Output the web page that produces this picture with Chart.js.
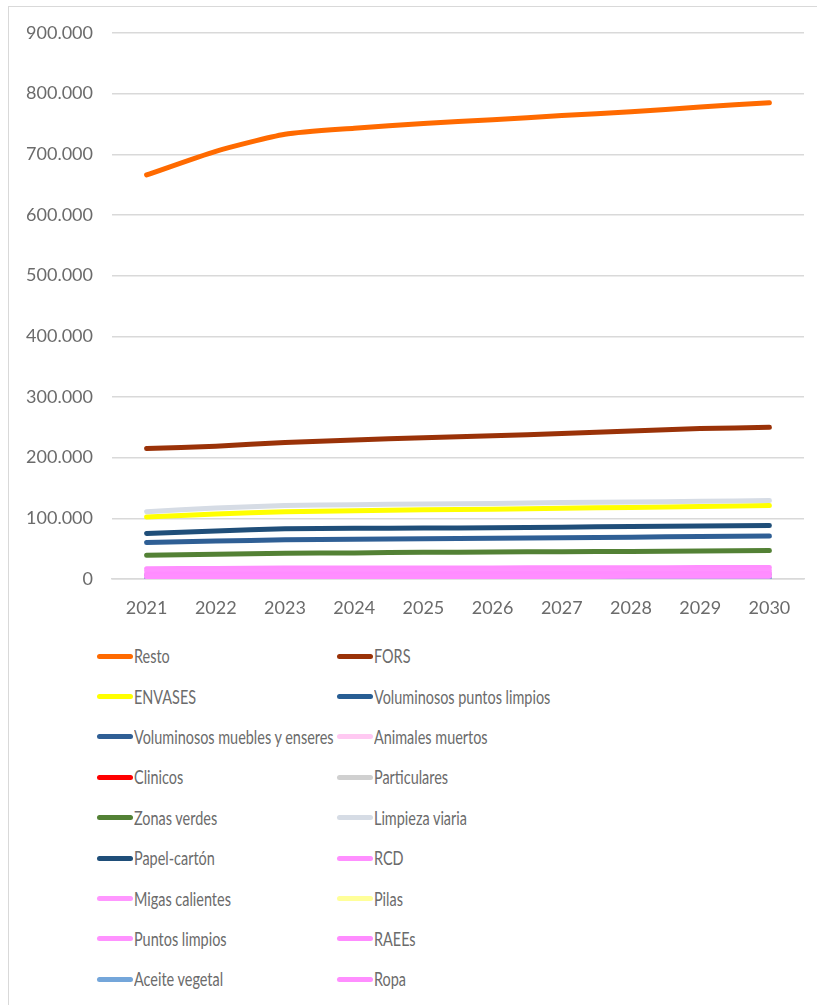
<!DOCTYPE html>
<html>
<head>
<meta charset="utf-8">
<script src="https://cdn.jsdelivr.net/npm/chart.js@4/dist/chart.umd.min.js"></script>
<style>
  html, body { margin:0; padding:0; background:#fff; }
  body { width:817px; height:1005px; position:relative; overflow:hidden; font-family:Lato, "Liberation Sans", sans-serif; }
  #frame { position:absolute; left:8px; top:6px; width:830px; height:1020px; border-left:1.5px solid #d9d9d9; border-top:1.5px solid #d9d9d9; }
  #wrap { position:absolute; left:0; top:0; width:817px; height:630px; }
  #legend { position:absolute; left:97px; top:636px; display:grid; grid-template-columns:240px 300px; grid-auto-rows:40.4px; }
  .item { display:flex; align-items:center; color:#6b6b6b; font-size:18.5px; white-space:nowrap; }
  .sw { width:36px; height:5px; border-radius:3px; margin-right:1px; flex:none; }
  .tx { display:inline-block; transform:scaleX(0.78); transform-origin:left center; }
</style>
</head>
<body>
<div id="frame"></div>
<div id="wrap"><canvas id="c" width="817" height="630"></canvas></div>
<div id="legend"></div>
<script>
const years = ['2021','2022','2023','2024','2025','2026','2027','2028','2029','2030'];
const yTicks = [0,100000,200000,300000,400000,500000,600000,700000,800000,900000];

const resto = [666000,705000,733000,743000,751000,757000,764000,770000,778000,785000];
const fors = [215000,219000,225000,229000,233000,236000,240000,244000,248000,250000];
const envases = [102000,107000,111000,112500,114000,115000,116500,118000,119500,121000];
const volPuntosLimpios = [7000,7200,7400,7600,7800,8000,8200,8400,8600,8800];
const volMuebles = [60000,62500,64500,65500,66500,67000,68000,69000,70000,71000];
const animalesMuertos = [9000,9100,9200,9300,9400,9500,9600,9700,9800,9900];
const clinicos = [300,300,310,310,320,320,330,330,340,340];
const particulares = [1500,1550,1600,1650,1700,1750,1800,1850,1900,1950];
const zonasVerdes = [39000,41000,42500,43000,44000,44500,45000,45500,46000,47000];
const limpiezaViaria = [111000,117000,121000,122500,123500,124500,126000,127000,128000,129500];
const papelCarton = [75000,79000,83000,83500,84000,84500,85500,86500,87500,88000];
const rcd = [17000,17500,18000,18000,18200,18300,18500,18600,18800,19000];
const migasCalientes = [2500,2550,2600,2650,2700,2750,2800,2850,2900,2950];
const pilas = [100,100,105,105,110,110,115,115,120,120];
const puntosLimpios = [13000,13200,13400,13500,13600,13700,13800,13900,14000,14100];
const raees = [8000,8100,8200,8300,8400,8500,8600,8700,8800,8900];
const aceiteVegetal = [600,610,620,630,640,650,660,670,680,690];
const ropa = [4000,4050,4100,4150,4200,4250,4300,4350,4400,4450];

const seriesNames = ['Resto','FORS','ENVASES','Voluminosos puntos limpios','Voluminosos muebles y enseres','Animales muertos','Clinicos','Particulares','Zonas verdes','Limpieza viaria','Papel-cartón','RCD','Migas calientes','Pilas','Puntos limpios','RAEEs','Aceite vegetal','Ropa'];
const seriesData = [resto,fors,envases,volPuntosLimpios,volMuebles,animalesMuertos,clinicos,particulares,zonasVerdes,limpiezaViaria,papelCarton,rcd,migasCalientes,pilas,puntosLimpios,raees,aceiteVegetal,ropa];
const seriesColors = ['#ff6a00','#9a3208','#ffff00','#285e94','#2f5f95','#ffc9f2','#ff0000','#d0d0d0','#538135','#d6dce5','#1f4e79','#ff8fff','#ff97ff','#ffff99','#ff92ff','#ff8cff','#74a6da','#ff8eff'];

const n = seriesNames.length;
const datasets = seriesNames.map((name,i)=>({
  label:name, data:seriesData[i], borderColor:seriesColors[i], backgroundColor:seriesColors[i],
  borderWidth:5, pointRadius:0, pointHoverRadius:0, tension:0.2, fill:false,
  borderCapStyle:'round', borderJoinStyle:'round', order:n-i
}));

const fmt = v => String(v).replace(/\B(?=(\d{3})+(?!\d))/g,'.');

const chart = new Chart(document.getElementById('c'), {
  type:'line',
  data:{ labels:years, datasets },
  options:{
    responsive:false, animation:false, devicePixelRatio:1,
    layout:{ padding:{ top:33, right:13, left:0, bottom:0 } },
    plugins:{ legend:{ display:false }, tooltip:{ enabled:false } },
    scales:{
      x:{
        offset:true,
        grid:{ display:false, drawTicks:false },
        border:{ display:true, color:'#d9d9d9', width:1.5 },
        ticks:{ color:'#6b6b6b', font:{ family:'Lato', size:18 }, padding:18, maxRotation:0 },
        afterFit: s => { s.height = 51; }
      },
      y:{
        min:0, max:900000,
        afterBuildTicks: s => { s.ticks = yTicks.map(v=>({value:v})); },
        grid:{ color:'#d9d9d9', lineWidth:1.5, drawTicks:false },
        border:{ display:false },
        ticks:{ color:'#6b6b6b', font:{ family:'Lato', size:18 }, padding:19, callback: v => fmt(v) },
        afterFit: s => { s.width = 112; }
      }
    }
  }
});

const leg = document.getElementById('legend');
seriesNames.forEach((name,i)=>{
  const d = document.createElement('div'); d.className='item';
  const sw = document.createElement('span'); sw.className='sw'; sw.style.background=seriesColors[i];
  const tx = document.createElement('span'); tx.className='tx'; tx.textContent=name;
  d.appendChild(sw); d.appendChild(tx);
  leg.appendChild(d);
});
</script>
</body>
</html>
